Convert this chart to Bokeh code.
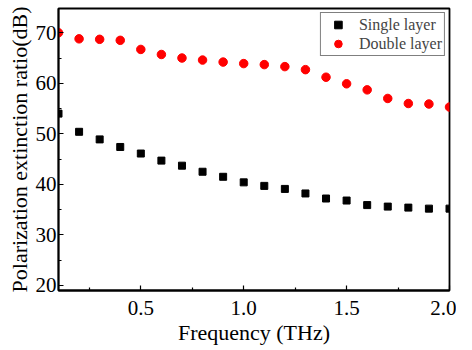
from bokeh.plotting import figure
from bokeh.embed import file_html
from bokeh.resources import INLINE
from bokeh.models import Range1d, FixedTicker, Legend, LegendItem, CustomJSTickFormatter

freq = [0.1, 0.2, 0.3, 0.4, 0.5, 0.6, 0.7, 0.8, 0.9, 1.0,
        1.1, 1.2, 1.3, 1.4, 1.5, 1.6, 1.7, 1.8, 1.9, 2.0]
single_layer = [54.0, 50.4, 48.9, 47.4, 46.1, 44.7, 43.7, 42.5, 41.5, 40.4,
                39.7, 39.1, 38.2, 37.2, 36.8, 35.9, 35.6, 35.4, 35.2, 35.2]
double_layer = [70.0, 68.8, 68.7, 68.5, 66.7, 65.7, 65.0, 64.6, 64.2, 63.9,
                63.7, 63.3, 62.7, 61.2, 59.9, 58.7, 57.0, 56.0, 55.9, 55.3]
x_ticks = [0.5, 1.0, 1.5, 2.0]
y_ticks = [20, 30, 40, 50, 60, 70]

FONT = "Liberation Serif"

p = figure(output_backend="svg", toolbar_location=None,
           frame_width=391, frame_height=282,
           min_border_left=58, min_border_top=8, min_border_right=7, min_border_bottom=52,
           x_range=Range1d(0.1, 2.0), y_range=Range1d(19.0, 74.8),
           x_axis_label="Frequency (THz)",
           y_axis_label="Polarization extinction ratio(dB)")
p.grid.visible = False
p.outline_line_color = "black"
p.outline_line_width = 1.8
p.outline_line_alpha = 1.0
p.background_fill_color = "white"
p.border_fill_color = "white"

for ax in (p.xaxis[0], p.yaxis[0]):
    ax.axis_line_width = 1.8
    ax.major_tick_in = 5
    ax.major_tick_out = 0
    ax.minor_tick_in = 3
    ax.minor_tick_out = 0
    ax.major_tick_line_width = 1.2
    ax.minor_tick_line_width = 1.2
    ax.major_label_text_font = FONT
    ax.major_label_text_font_size = "21px"
    ax.major_label_text_color = "black"
    ax.axis_label_text_font = FONT
    ax.axis_label_text_font_size = "22px"
    ax.axis_label_text_font_style = "normal"
    ax.axis_label_text_color = "black"

p.xaxis[0].ticker = FixedTicker(ticks=x_ticks, minor_ticks=[0.25, 0.75, 1.25, 1.75])
p.yaxis[0].ticker = FixedTicker(ticks=y_ticks, minor_ticks=[25, 35, 45, 55, 65])
p.xaxis[0].formatter = CustomJSTickFormatter(code="return tick.toFixed(1);")
p.xaxis[0].major_label_standoff = 10
p.xaxis[0].axis_label_standoff = 2
p.yaxis[0].major_label_standoff = 2
p.yaxis[0].axis_label_standoff = 1

r1 = p.scatter(freq, single_layer, marker="square", size=7, color="black")
r2 = p.scatter(freq, double_layer, marker="circle", size=8.5, color="red")

legend = Legend(items=[LegendItem(label="Single layer", renderers=[r1]),
                       LegendItem(label="Double layer", renderers=[r2])],
                location="top_right")
legend.label_text_font = FONT
legend.label_text_font_size = "16px"
legend.border_line_color = "black"
legend.border_line_width = 1.2
legend.margin = 4
legend.padding = 2
legend.spacing = 0
legend.glyph_width = 30
legend.glyph_height = 19
legend.label_height = 19
legend.label_standoff = 6
p.add_layout(legend)

open("out.html", "w").write(file_html(p, INLINE))
